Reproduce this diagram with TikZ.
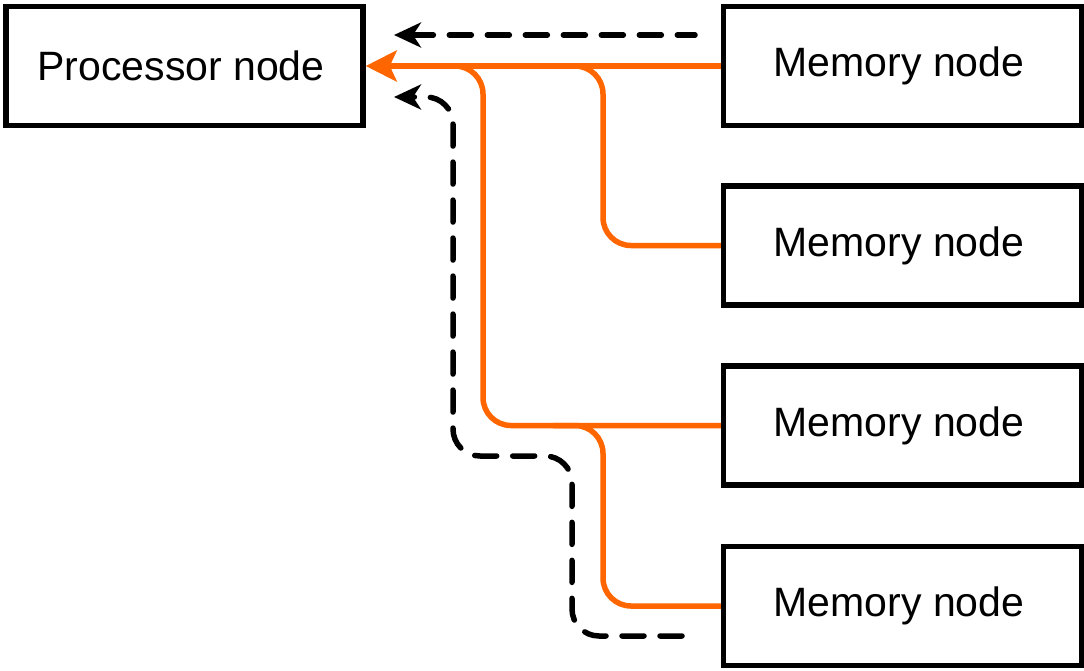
\documentclass[tikz,border=0pt]{standalone}
\usepackage{fontspec}
\setmainfont{Liberation Sans}
\usetikzlibrary{arrows.meta}
\definecolor{orangeline}{RGB}{255,102,0}
\begin{document}
\begin{tikzpicture}[x=1pt,y=-1pt,
  box/.style={draw=black,line width=5.5pt,minimum height=119pt,inner sep=0pt,font=\fontsize{41}{49}\selectfont},
  bus/.style={draw=orangeline,line width=5.5pt,rounded corners=28pt},
  flow/.style={draw=black,line width=5.5pt,line cap=round,dash pattern=on 22pt off 16pt,rounded corners=27pt},
  bustip/.style={-{Stealth[length=31pt,width=31pt,inset=7pt,fill=orangeline]}},
  flowtip/.style={-{Stealth[length=27pt,width=25pt,inset=8pt]}},
  flowtipstart/.style={{Stealth[length=27pt,width=25pt,inset=8pt]}-},
]
\useasboundingbox (0,0) rectangle (1084,670);

\node[box,minimum width=357pt] (proc) at (184.5,66) {\kern-7pt Processor node};
\node[box,minimum width=358pt] (mem1) at (902.5,66) {\kern-7pt Memory node};
\node[box,minimum width=358pt] (mem2) at (902.5,245.5) {\kern-7pt Memory node};
\node[box,minimum width=358pt] (mem3) at (902.5,425.5) {\kern-7pt Memory node};
\node[box,minimum width=358pt] (mem4) at (902.5,606) {\kern-7pt Memory node};

% orange bus
\coordinate (b1) at (483,66);
\coordinate (b2) at (603,66);
\coordinate (b4) at (603,425.5);
\draw[bus] (mem3.west) -| (b1) -- ++(-50,0);
\draw[bus] (mem2.west) -| (b2) -- ++(-50,0);
\draw[bus] (mem4.west) -| (b4) -- ++(-50,0);
\draw[bus,bustip] (mem1.west) -- (proc.east);

% dashed flows
\coordinate (d1s) at (394,35);
\coordinate (d1e) at (695,35);
\draw[flow,flowtipstart] (d1s) -- (d1e);
\coordinate (d2s) at (394,97);
\coordinate (d2e) at (682,636);
\draw[flow,flowtip] (d2e) -- (572,636) |- (453,456) |- (d2s);
\end{tikzpicture}
\end{document}
